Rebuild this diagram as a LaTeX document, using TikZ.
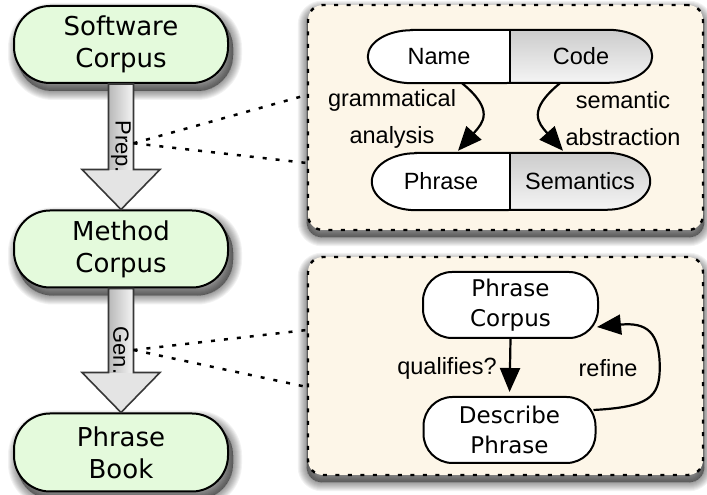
\documentclass[tikz,border=0pt]{standalone}
\usepackage{fontspec}
\setmainfont{Liberation Sans}
\newfontfamily\vera{DejaVu Sans}
\usetikzlibrary{arrows.meta,calc}
\pgfdeclarelayer{shades}
\pgfdeclarelayer{boxes}
\pgfdeclarelayer{halves}
\pgfsetlayers{shades,boxes,halves,main}

\definecolor{stagegreen}{RGB}{228,250,220}
\definecolor{panelcream}{RGB}{253,246,232}
\definecolor{arrowgray}{RGB}{228,228,228}
\definecolor{rimgray}{RGB}{55,55,55}

\tikzset{
  stage/.style={draw=black, line width=2pt, fill=stagegreen, rounded corners=36pt,
    minimum width=214pt, minimum height=77pt, align=center,
    font=\vera\fontsize{26}{32}\selectfont},
  panel/.style={draw=black, line width=2.4pt, dash pattern=on 4pt off 8.5pt,
    fill=panelcream, rounded corners=15pt, minimum width=395pt},
  softedge/.style={draw=black, fill=black, opacity=0.05},
  half/.style={inner sep=0pt, font=\fontsize{23.5}{28}\selectfont},
  flowbox/.style={draw=black, line width=2pt, fill=white, rounded corners=29pt,
    minimum width=175pt, minimum height=66pt, align=center,
    font=\vera\fontsize{23}{30}\selectfont},
  lbl/.style={align=center, font=\fontsize{23.5}{37}\selectfont},
  link/.style={line width=2.2pt, -{Triangle[length=24pt,width=20pt]}},
  tie/.style={line width=2.5pt, dash pattern=on 4pt off 9pt},
  steplabel/.style={rotate=-90, font=\fontsize{22}{26}\selectfont},
}

\begin{document}
\begin{tikzpicture}[x=1pt,y=1pt]
\useasboundingbox (0,0) rectangle (707,495);

% detail panels
\begin{pgfonlayer}{boxes}
\node[panel, minimum height=225pt] (topbox) at (505.5,377.5) {};
\node[panel, minimum height=218pt] (botbox) at (505.5,129) {};
\end{pgfonlayer}

% processing stages on the left
\node[stage] (sc) at (121,450.5) {Software\\Corpus};
\node[stage] (mc) at (121,246) {Method\\Corpus};
\node[stage, minimum height=78pt] (pb) at (121,42.5) {Phrase\\Book};

% soft drop shadows
\begin{pgfonlayer}{shades}
\foreach \n in {sc,mc,pb}{
  \foreach \r in {0,2,...,18}{
    \path[softedge, line width=\r pt, rounded corners=36pt]
      ($(\n.south west)+(4,-7)$) rectangle ($(\n.north east)+(4,-7)$);
  }
}
\foreach \n in {topbox,botbox}{
  \foreach \r in {0,2,...,18}{
    \path[softedge, line width=\r pt, rounded corners=15pt]
      ($(\n.south west)+(0,-6)$) rectangle ($(\n.north east)+(0,-6)$);
  }
}
\end{pgfonlayer}

% block arrows between the stages
\foreach \a/\b in {sc/mc, mc/pb}{
  \fill[arrowgray] ($(\a.south)+(-12.5,0)$) -- ($(\a.south)+(12.5,0)$)
    -- ($(\b.north)+(12.5,40)$) -- ($(\b.north)+(39,40)$) -- (\b.north)
    -- ($(\b.north)+(-39,40)$) -- ($(\b.north)+(-12.5,40)$) -- cycle;
  \shade[left color=gray!55!white, right color=gray!8]
    ($(\a.south)+(-12.5,0)$) rectangle ($(\b.north)+(12.5,40)$);
  \draw[rimgray, line width=1.6pt, line join=miter]
    ($(\a.south)+(-12.5,0)$) -- ($(\a.south)+(12.5,0)$)
    -- ($(\b.north)+(12.5,40)$) -- ($(\b.north)+(39,40)$) -- (\b.north)
    -- ($(\b.north)+(-39,40)$) -- ($(\b.north)+(-12.5,40)$) -- cycle;
}
\node[steplabel] (prep) at ($(sc.south)!0.5!(mc.north)$) {Prep.};
\node[steplabel] (gen) at ($(mc.south)!0.5!(pb.north)$) {Gen.};

% zoom lines from the steps to their panels
\coordinate (prepR) at ($(prep.center)+(12.5,3.5)$);
\coordinate (genR) at ($(gen.center)+(12.5,0.5)$);
\draw[tie] (prepR) -- ($(topbox.west)+(0,22.5)$);
\draw[tie] (prepR) -- ($(topbox.west)+(0,-45.5)$);
\draw[tie] (genR) -- ($(botbox.west)+(0,36)$);
\draw[tie] (genR) -- ($(botbox.west)+(0,-21)$);

% split pills: name/code and phrase/semantics
\node[half, minimum width=142pt, minimum height=53pt] (name) at (439,438.5) {Name};
\node[half, minimum width=142pt, minimum height=53pt] (code) at (581,438.5) {Code};
\node[half, minimum width=138pt, minimum height=57pt] (phrase) at (441,313.5) {Phrase};
\node[half, minimum width=140pt, minimum height=57pt] (sem) at (580,313.5) {Semantics};

\begin{pgfonlayer}{halves}
\fill[white] (name.north east) -- ($(name.north west)+(44,0)$)
  arc[start angle=90, end angle=270, x radius=44, y radius=26.5] -- (name.south east) -- cycle;
\shade[top color=gray!40!white, bottom color=gray!8] (code.north west) -- ($(code.north east)+(-44,0)$)
  arc[start angle=90, end angle=-90, x radius=44, y radius=26.5] -- (code.south west) -- cycle;
\fill[white] (phrase.north east) -- ($(phrase.north west)+(44,0)$)
  arc[start angle=90, end angle=270, x radius=44, y radius=28.5] -- (phrase.south east) -- cycle;
\shade[top color=gray!40!white, bottom color=gray!8] (sem.north west) -- ($(sem.north east)+(-44,0)$)
  arc[start angle=90, end angle=-90, x radius=44, y radius=28.5] -- (sem.south west) -- cycle;
\end{pgfonlayer}
\draw[line width=2pt] ($(name.north west)+(44,0)$) -- ($(code.north east)+(-44,0)$)
  arc[start angle=90, end angle=-90, x radius=44, y radius=26.5]
  -- ($(name.south west)+(44,0)$)
  arc[start angle=270, end angle=90, x radius=44, y radius=26.5] -- cycle;
\draw[line width=2pt] (name.north east) -- (name.south east);
\draw[line width=2pt] ($(phrase.north west)+(44,0)$) -- ($(sem.north east)+(-44,0)$)
  arc[start angle=90, end angle=-90, x radius=44, y radius=28.5]
  -- ($(phrase.south west)+(44,0)$)
  arc[start angle=270, end angle=90, x radius=44, y radius=28.5] -- cycle;
\draw[line width=2pt] (phrase.north east) -- (phrase.south east);

% transformations between the pills
\draw[link] ($(name.south)+(23,0)$) .. controls +(33,-27) and +(25,28) .. ($(phrase.north)+(17,2)$);
\draw[link] ($(code.south)+(-21,0)$) .. controls +(-33,-27) and +(-25,28) .. ($(sem.north)+(-17,2)$);
\node[lbl] (gram) at (392,376.5) {grammatical\\analysis};
\node[lbl] (abst) at (623,376.5) {semantic\\abstraction};

% generation loop
\node[flowbox] (pc) at (510.5,190) {Phrase\\Corpus};
\node[flowbox, minimum width=172pt] (dp) at (509.5,65) {Describe\\Phrase};
\draw[link, shorten >=4pt] (pc.south) -- (dp.north);
\coordinate (rf) at ($(pc.east)!0.5!(dp.east)+(62,0)$);
\draw[link] ($(dp.east)+(-3,20)$) .. controls +(55,3) and +(0,-30) .. (rf)
  .. controls +(0,35) and +(50,5) .. ($(pc.east)+(-2,-22)$);
\node[lbl] (qual) at (447,127) {qualifies?};
\node[lbl] (refine) at (608,127) {refine};
\end{tikzpicture}
\end{document}
